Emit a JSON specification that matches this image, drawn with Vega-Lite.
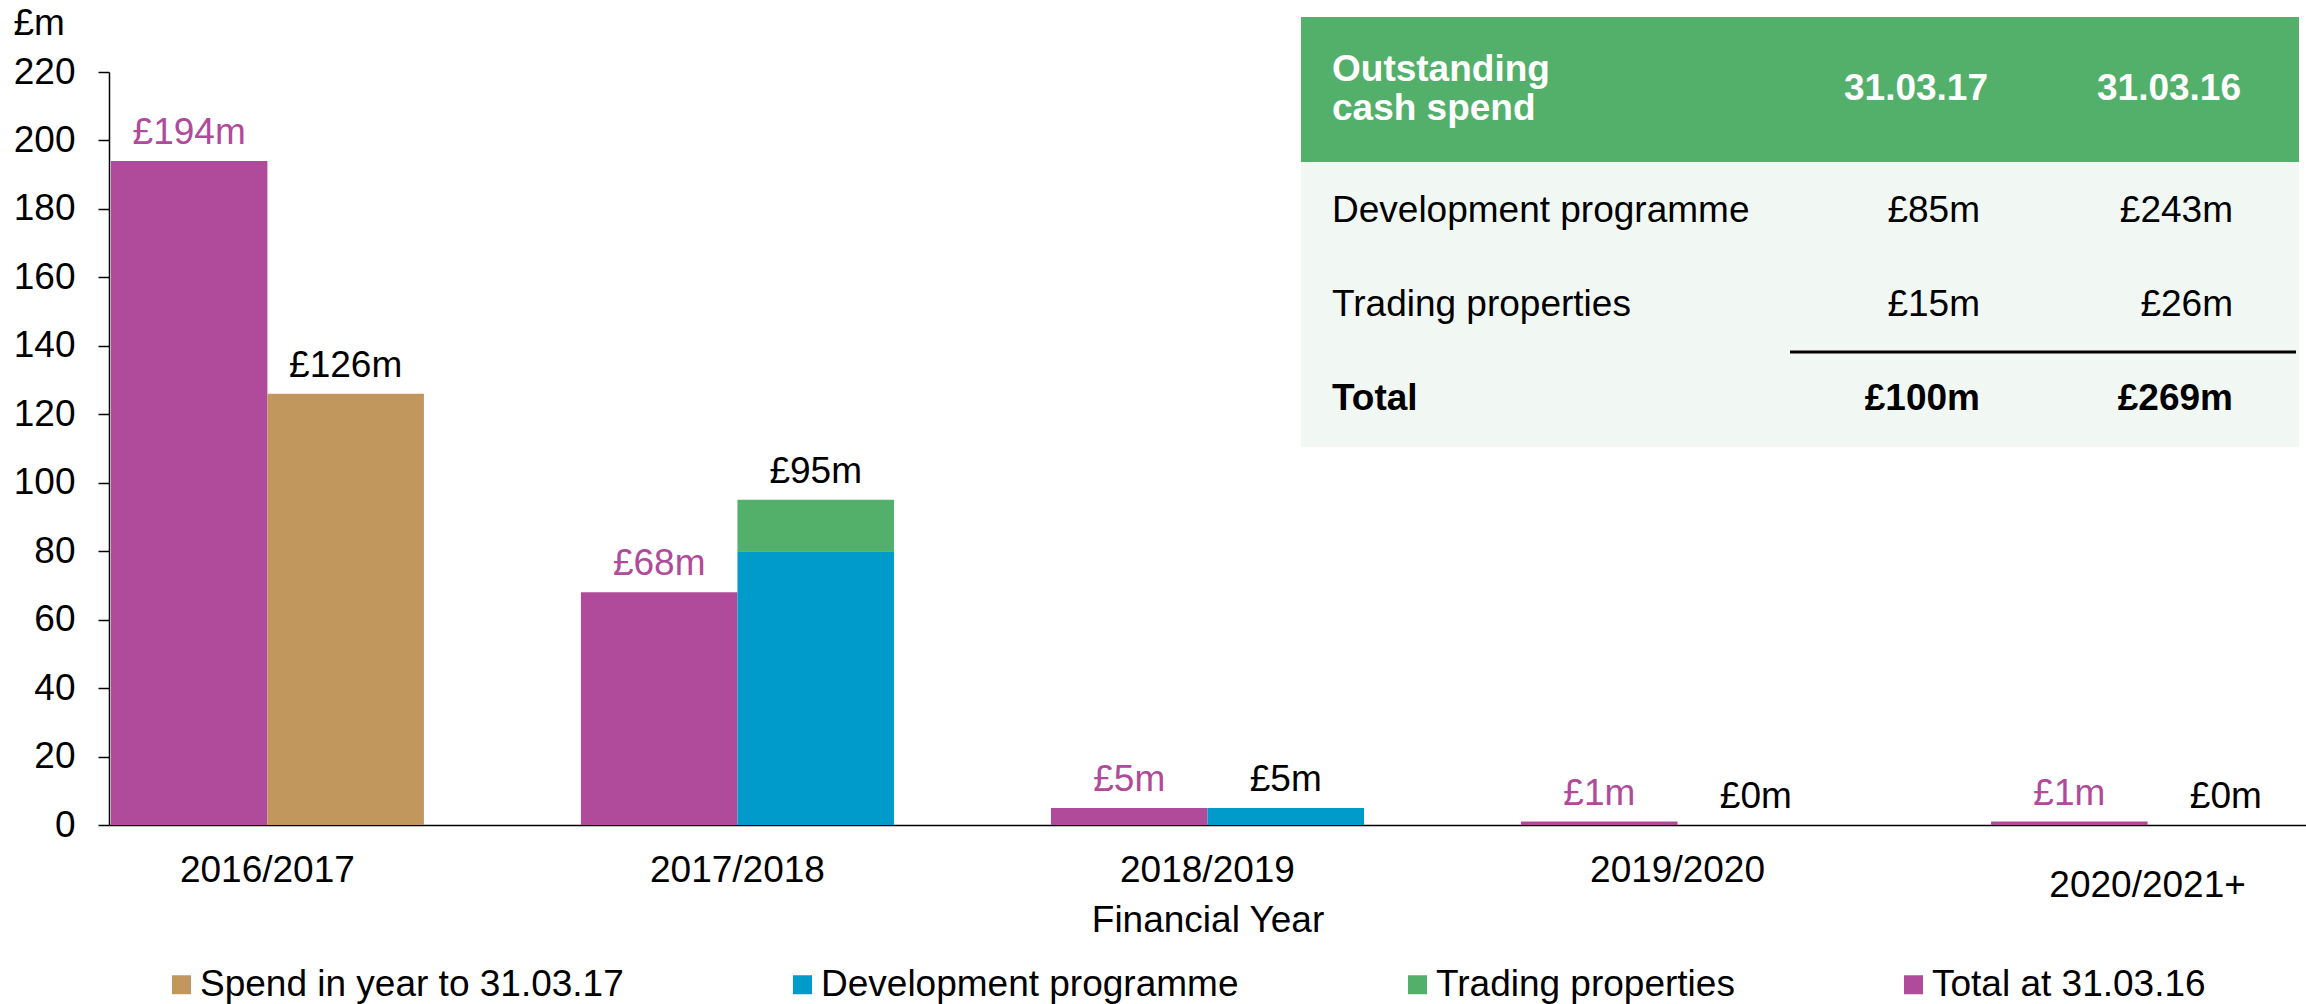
{
  "$schema": "https://vega.github.io/schema/vega-lite/v6.json",
  "width": 2197,
  "height": 753,
  "autosize": {"type": "none"},
  "padding": {"left": 109, "top": 72, "right": 0, "bottom": 179},
  "background": "white",
  "datasets": {
    "bars": [
      {"year": "2016/2017", "bar": "31.03.16", "series": "Total at 31.03.16", "value": 194},
      {"year": "2016/2017", "bar": "31.03.17", "series": "Spend in year to 31.03.17", "value": 126},
      {"year": "2017/2018", "bar": "31.03.16", "series": "Total at 31.03.16", "value": 68},
      {"year": "2017/2018", "bar": "31.03.17", "series": "Development programme", "value": 80},
      {"year": "2017/2018", "bar": "31.03.17", "series": "Trading properties", "value": 15},
      {"year": "2018/2019", "bar": "31.03.16", "series": "Total at 31.03.16", "value": 5},
      {"year": "2018/2019", "bar": "31.03.17", "series": "Development programme", "value": 5},
      {"year": "2019/2020", "bar": "31.03.16", "series": "Total at 31.03.16", "value": 1},
      {"year": "2019/2020", "bar": "31.03.17", "series": "Development programme", "value": 0},
      {"year": "2020/2021+", "bar": "31.03.16", "series": "Total at 31.03.16", "value": 1},
      {"year": "2020/2021+", "bar": "31.03.17", "series": "Development programme", "value": 0}
    ],
    "table": [
      {"item": "Development programme", "col": "31.03.17", "amount": 85},
      {"item": "Development programme", "col": "31.03.16", "amount": 243},
      {"item": "Trading properties", "col": "31.03.17", "amount": 15},
      {"item": "Trading properties", "col": "31.03.16", "amount": 26},
      {"item": "Total", "col": "31.03.17", "amount": 100},
      {"item": "Total", "col": "31.03.16", "amount": 269}
    ],
    "tableHeader": [{"heading": "Outstanding\ncash spend"}]
  },
  "config": {
    "font": "Liberation Sans",
    "view": {"stroke": null},
    "locale": {"number": {"decimal": ".", "thousands": ",", "grouping": [3], "currency": ["£", "m"]}},
    "axis": {
      "grid": false,
      "domainColor": "black",
      "tickColor": "black",
      "labelColor": "black",
      "titleColor": "black",
      "labelFontSize": 37,
      "titleFontSize": 37,
      "titleFontWeight": "normal",
      "labelFont": "Liberation Sans",
      "titleFont": "Liberation Sans",
      "labelLimit": 0
    },
    "text": {"font": "Liberation Sans", "fontSize": 37}
  },
  "layer": [
    {
      "data": {"name": "bars"},
      "layer": [
        {
          "mark": {"type": "bar"},
          "encoding": {
            "x": {
              "field": "year",
              "type": "nominal",
              "title": "Financial Year",
              "scale": {"paddingInner": 0.334, "paddingOuter": 0.004},
              "axis": {
                "labelAngle": 0,
                "ticks": false,
                "tickSize": 0,
                "labelLimit": 0,
                "labelPadding": {"condition": {"test": "datum.value === '2020/2021+'", "value": 71}, "value": 56},
                "labelBaseline": "alphabetic",
                "domainWidth": 1.5,
                "titleY": 106,
                "titleBaseline": "alphabetic"
              }
            },
            "xOffset": {"field": "bar", "type": "nominal"},
            "y": {
              "field": "value",
              "type": "quantitative",
              "stack": "zero",
              "title": "£m",
              "scale": {"domain": [0, 220], "nice": false},
              "axis": {
                "values": [0, 20, 40, 60, 80, 100, 120, 140, 160, 180, 200, 220],
                "tickSize": 11,
                "tickWidth": 1.5,
                "domainWidth": 1.5,
                "labelPadding": 23,
                "titleAngle": 0,
                "titleAlign": "left",
                "titleBaseline": "alphabetic",
                "titleX": -96,
                "titleY": -38
              }
            },
            "color": {
              "field": "series",
              "type": "nominal",
              "scale": {
                "domain": ["Spend in year to 31.03.17", "Development programme", "Trading properties", "Total at 31.03.16"],
                "range": ["#C1975E", "#009BCB", "#52B06B", "#B04A9A"]
              },
              "legend": {
                "orient": "none",
                "legendX": 54,
                "legendY": 894,
                "direction": "horizontal",
                "columns": 4,
                "title": null,
                "symbolType": "square",
                "symbolSize": 361,
                "symbolStrokeWidth": 0,
                "labelFontSize": 37,
                "labelFont": "Liberation Sans",
                "labelColor": "black",
                "labelOffset": 0,
                "labelLimit": 0,
                "columnPadding": 160,
                "padding": 0
              }
            },
            "order": {"field": "series", "sort": "ascending"}
          }
        },
        {
          "transform": [{"aggregate": [{"op": "sum", "field": "value", "as": "total"}], "groupby": ["year", "bar"]}],
          "mark": {"type": "text", "baseline": "alphabetic", "dy": -17, "fontSize": 37},
          "encoding": {
            "x": {"field": "year", "type": "nominal"},
            "xOffset": {"field": "bar", "type": "nominal"},
            "y": {"field": "total", "type": "quantitative", "stack": null},
            "text": {"field": "total", "type": "quantitative", "format": "$d"},
            "color": {"condition": {"test": "datum.bar === '31.03.16'", "value": "#B04A9A"}, "value": "#000000"}
          }
        }
      ]
    },
    {
      "layer": [
        {
          "data": {"name": "tableHeader"},
          "mark": {"type": "rect", "color": "#52B06B"},
          "encoding": {
            "x": {"datum": 0, "type": "quantitative", "scale": {"domain": [0, 998], "range": [1192, 2190], "zero": false, "nice": false}, "axis": null},
            "x2": {"datum": 998},
            "y": {"datum": 0, "type": "quantitative", "scale": {"domain": [0, 430], "range": [-55, 375], "zero": false, "nice": false}, "axis": null},
            "y2": {"datum": 145}
          }
        },
        {
          "data": {"name": "tableHeader"},
          "mark": {"type": "rect", "color": "#F1F8F3"},
          "encoding": {
            "x": {"datum": 0, "type": "quantitative", "scale": {"domain": [0, 998], "range": [1192, 2190], "zero": false, "nice": false}, "axis": null},
            "x2": {"datum": 998},
            "y": {"datum": 145, "type": "quantitative", "scale": {"domain": [0, 430], "range": [-55, 375], "zero": false, "nice": false}, "axis": null},
            "y2": {"datum": 430}
          }
        },
        {
          "data": {"name": "tableHeader"},
          "mark": {"type": "rule", "color": "black", "strokeWidth": 3},
          "encoding": {
            "x": {"datum": 489, "type": "quantitative", "scale": {"domain": [0, 998], "range": [1192, 2190], "zero": false, "nice": false}, "axis": null},
            "x2": {"datum": 995},
            "y": {"datum": 335, "type": "quantitative", "scale": {"domain": [0, 430], "range": [-55, 375], "zero": false, "nice": false}, "axis": null}
          }
        },
        {
          "data": {"name": "tableHeader"},
          "mark": {"type": "text", "align": "left", "baseline": "alphabetic", "fontWeight": "bold", "color": "white", "fontSize": 37, "lineBreak": "\n", "lineHeight": 39},
          "encoding": {
            "x": {"datum": 31, "type": "quantitative", "scale": {"domain": [0, 998], "range": [1192, 2190], "zero": false, "nice": false}, "axis": null},
            "y": {"datum": 64, "type": "quantitative", "scale": {"domain": [0, 430], "range": [-55, 375], "zero": false, "nice": false}, "axis": null},
            "text": {"field": "heading"}
          }
        },
        {
          "data": {"name": "table"},
          "transform": [{"filter": "datum.item === 'Total'"}],
          "mark": {"type": "text", "align": "center", "baseline": "alphabetic", "fontWeight": "bold", "color": "white", "fontSize": 37},
          "encoding": {
            "x": {"field": "col", "type": "nominal", "scale": {"type": "point", "domain": ["31.03.17", "31.03.16"], "range": [1807, 2060], "padding": 0}, "axis": null},
            "y": {"datum": 83, "type": "quantitative", "scale": {"domain": [0, 430], "range": [-55, 375], "zero": false, "nice": false}, "axis": null},
            "text": {"field": "col"}
          }
        },
        {
          "data": {"name": "table"},
          "transform": [{"filter": "datum.col === '31.03.17' && datum.item !== 'Total'"}],
          "mark": {"type": "text", "align": "left", "baseline": "alphabetic", "color": "black", "fontSize": 37},
          "encoding": {
            "x": {"datum": 31, "type": "quantitative", "scale": {"domain": [0, 998], "range": [1192, 2190], "zero": false, "nice": false}, "axis": null},
            "y": {"field": "item", "type": "nominal", "scale": {"type": "point", "domain": ["Development programme", "Trading properties", "Total"], "range": [150, 338], "padding": 0}, "axis": null},
            "text": {"field": "item"}
          }
        },
        {
          "data": {"name": "table"},
          "transform": [{"filter": "datum.col === '31.03.17' && datum.item === 'Total'"}],
          "mark": {"type": "text", "align": "left", "baseline": "alphabetic", "color": "black", "fontSize": 37, "fontWeight": "bold"},
          "encoding": {
            "x": {"datum": 31, "type": "quantitative", "scale": {"domain": [0, 998], "range": [1192, 2190], "zero": false, "nice": false}, "axis": null},
            "y": {"field": "item", "type": "nominal", "scale": {"type": "point", "domain": ["Development programme", "Trading properties", "Total"], "range": [150, 338], "padding": 0}, "axis": null},
            "text": {"field": "item"}
          }
        },
        {
          "data": {"name": "table"},
          "transform": [{"filter": "datum.item !== 'Total'"}],
          "mark": {"type": "text", "align": "right", "baseline": "alphabetic", "color": "black", "fontSize": 37},
          "encoding": {
            "x": {"field": "col", "type": "nominal", "scale": {"type": "point", "domain": ["31.03.17", "31.03.16"], "range": [1871, 2124], "padding": 0}, "axis": null},
            "y": {"field": "item", "type": "nominal", "scale": {"type": "point", "domain": ["Development programme", "Trading properties", "Total"], "range": [150, 338], "padding": 0}, "axis": null},
            "text": {"field": "amount", "type": "quantitative", "format": "$d"}
          }
        },
        {
          "data": {"name": "table"},
          "transform": [{"filter": "datum.item === 'Total'"}],
          "mark": {"type": "text", "align": "right", "baseline": "alphabetic", "color": "black", "fontSize": 37, "fontWeight": "bold"},
          "encoding": {
            "x": {"field": "col", "type": "nominal", "scale": {"type": "point", "domain": ["31.03.17", "31.03.16"], "range": [1871, 2124], "padding": 0}, "axis": null},
            "y": {"field": "item", "type": "nominal", "scale": {"type": "point", "domain": ["Development programme", "Trading properties", "Total"], "range": [150, 338], "padding": 0}, "axis": null},
            "text": {"field": "amount", "type": "quantitative", "format": "$d"}
          }
        }
      ],
      "resolve": {"scale": {"x": "independent", "y": "independent"}}
    }
  ],
  "resolve": {"scale": {"x": "independent", "y": "independent"}}
}
